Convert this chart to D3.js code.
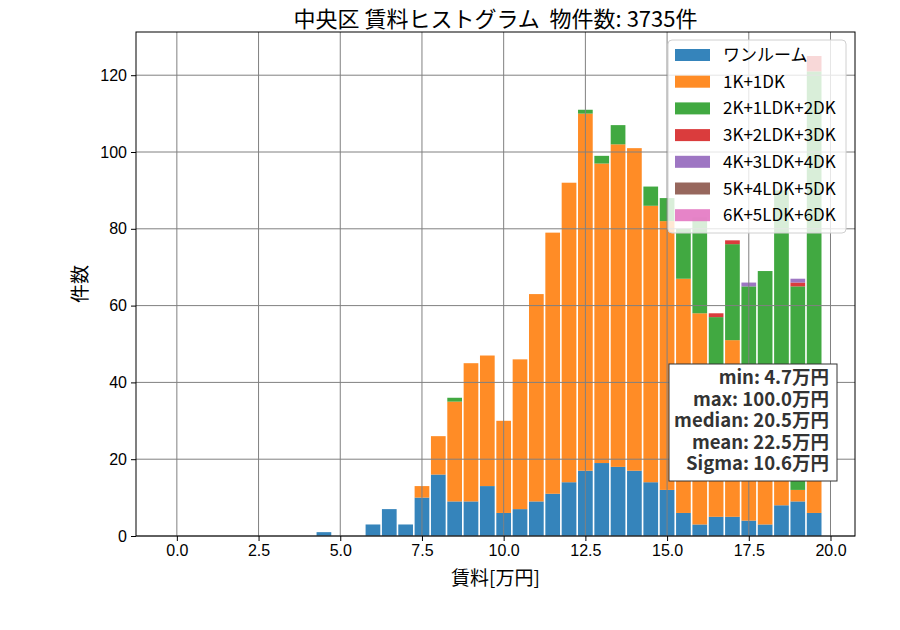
<!DOCTYPE html>
<html>
<head>
<meta charset="utf-8">
<script src="https://cdn.jsdelivr.net/npm/d3@7"></script>
<style>
  body { margin: 0; background: #fff; }
  svg { font-family: "Noto Sans CJK JP", "Noto Sans", sans-serif; }
</style>
</head>
<body>
<div id="chart"></div>
<script>
// bin centers (width 0.5), only bins that hold data plus the empty gap
const binCenters = [4.5, 5.0, 5.5, 6.0, 6.5, 7.0, 7.5, 8.0, 8.5, 9.0, 9.5, 10.0, 10.5, 11.0, 11.5,
    12.0, 12.5, 13.0, 13.5, 14.0, 14.5, 15.0, 15.5, 16.0, 16.5, 17.0, 17.5, 18.0, 18.5, 19.0, 19.5];

const categories = ['ワンルーム', '1K+1DK', '2K+1LDK+2DK', '3K+2LDK+3DK', '4K+3LDK+4DK', '5K+4LDK+5DK', '6K+5LDK+6DK'];

const oneRoom = [1, 0, 0, 3, 7, 3, 10, 16, 9, 9, 13, 6, 7, 9, 11, 14, 17, 19, 18, 17, 14, 12, 6, 3, 5, 5, 4, 3, 8, 9, 6];
const k1 = [0, 0, 0, 0, 0, 0, 3, 10, 26, 36, 34, 24, 39, 54, 68, 78, 93, 78, 84, 84, 72, 70, 61, 55, 37, 46, 32, 29, 22, 3, 16];
const k2 = [0, 0, 0, 0, 0, 0, 0, 0, 1, 0, 0, 0, 0, 0, 0, 0, 1, 2, 5, 0, 5, 6, 13, 25, 15, 25, 29, 37, 60, 53, 99];
const k3 = [0, 0, 0, 0, 0, 0, 0, 0, 0, 0, 0, 0, 0, 0, 0, 0, 0, 0, 0, 0, 0, 0, 0, 0, 1, 1, 0, 0, 0, 1, 4];
const k4 = [0, 0, 0, 0, 0, 0, 0, 0, 0, 0, 0, 0, 0, 0, 0, 0, 0, 0, 0, 0, 0, 0, 0, 0, 0, 0, 1, 0, 0, 1, 0];
const k5 = binCenters.map(() => 0);
const k6 = binCenters.map(() => 0);

const xTicks = [0, 2.5, 5, 7.5, 10, 12.5, 15, 17.5, 20];
const yTicks = [0, 20, 40, 60, 80, 100, 120];

const statLines = ['min: 4.7万円', 'max: 100.0万円', 'median: 20.5万円', 'mean: 22.5万円', 'Sigma: 10.6万円'];
const title = '中央区 賃料ヒストグラム  物件数: 3735件';

const colors = ['#1f77b4', '#ff7f0e', '#2ca02c', '#d62728', '#9467bd', '#8c564b', '#e377c2'];

const seriesValues = [oneRoom, k1, k2, k3, k4, k5, k6];
const rows = binCenters.map((c, i) => {
    const row = { center: c };
    categories.forEach((cat, j) => { row[cat] = seriesValues[j][i]; });
    return row;
});

const totalWidth = 900;
const totalHeight = 630;
const margin = { top: 32, right: 45, bottom: 94, left: 136 };
const graphWidth = totalWidth - margin.left - margin.right;
const graphHeight = totalHeight - margin.top - margin.bottom;

const binWidth = 0.5;
const rwidth = 0.9;
const histStart = -0.25;
const histEnd = 19.75;
const pad = (histEnd - histStart) * 0.05;

const stacked = d3.stack().keys(categories)(rows);
const maxTotal = d3.max(rows, d => d3.sum(categories, k => d[k]));

const scaleX = d3.scaleLinear()
    .domain([histStart - pad, histEnd + pad])
    .range([0, graphWidth]);
const scaleY = d3.scaleLinear()
    .domain([0, maxTotal * 1.05])
    .range([graphHeight, 0]);

const svg = d3.select('#chart').append('svg')
    .attr('width', totalWidth)
    .attr('height', totalHeight);

const graph = svg.append('g')
    .attr('transform', `translate(${margin.left}, ${margin.top})`);

// bars
graph.selectAll('g.series')
    .data(stacked)
    .enter()
    .append('g')
    .attr('class', 'series')
    .attr('fill', (d, i) => colors[i])
    .attr('fill-opacity', 0.9)
    .selectAll('rect')
    .data(d => d.filter(s => s[1] > s[0]))
    .enter()
    .append('rect')
    .attr('x', d => scaleX(d.data.center - binWidth * rwidth / 2))
    .attr('width', scaleX(binWidth * rwidth) - scaleX(0))
    .attr('y', d => scaleY(d[1]))
    .attr('height', d => scaleY(d[0]) - scaleY(d[1]));

// grid above bars
graph.append('g')
    .selectAll('line')
    .data(xTicks)
    .enter()
    .append('line')
    .attr('x1', d => scaleX(d)).attr('x2', d => scaleX(d))
    .attr('y1', 0).attr('y2', graphHeight)
    .attr('stroke', '#808080').attr('stroke-width', 1);
graph.append('g')
    .selectAll('line')
    .data(yTicks)
    .enter()
    .append('line')
    .attr('x1', 0).attr('x2', graphWidth)
    .attr('y1', d => scaleY(d)).attr('y2', d => scaleY(d))
    .attr('stroke', '#808080').attr('stroke-width', 1);

// axes
const xAxis = graph.append('g')
    .attr('transform', `translate(0, ${graphHeight})`)
    .call(d3.axisBottom(scaleX).tickValues(xTicks).tickFormat(d3.format('.1f')).tickSize(5).tickPadding(4));
const yAxis = graph.append('g')
    .call(d3.axisLeft(scaleY).tickValues(yTicks).tickFormat(d3.format('d')).tickSize(5).tickPadding(4));
[xAxis, yAxis].forEach(a => {
    a.select('.domain').remove();
    a.selectAll('text').style('font-size', '16px').attr('fill', '#000');
    a.selectAll('line').attr('stroke', '#000');
});

graph.append('rect')
    .attr('width', graphWidth)
    .attr('height', graphHeight)
    .attr('fill', 'none')
    .attr('stroke', '#000')
    .attr('stroke-width', 1);

// labels
svg.append('text')
    .attr('x', margin.left + graphWidth / 2)
    .attr('y', 27)
    .attr('text-anchor', 'middle')
    .style('font-size', '22px')
    .style('white-space', 'pre')
    .text(title);
svg.append('text')
    .attr('x', margin.left + graphWidth / 2)
    .attr('y', 585)
    .attr('text-anchor', 'middle')
    .style('font-size', '19px')
    .text('賃料[万円]');
svg.append('text')
    .attr('transform', `translate(87, ${margin.top + graphHeight / 2}) rotate(-90)`)
    .attr('text-anchor', 'middle')
    .style('font-size', '19px')
    .text('件数');

// legend
const legend = graph.append('g')
    .attr('transform', `translate(${668 - margin.left}, ${40 - margin.top})`);
legend.append('rect')
    .attr('width', 178)
    .attr('height', 193)
    .attr('rx', 4)
    .attr('fill', '#fff')
    .attr('fill-opacity', 0.8)
    .attr('stroke', '#d0d0d0');
categories.forEach((cat, i) => {
    const row = legend.append('g')
        .attr('transform', `translate(0, ${15 + i * 26.7})`);
    row.append('rect')
        .attr('x', 7).attr('y', -6)
        .attr('width', 35).attr('height', 12)
        .attr('fill', colors[i]).attr('fill-opacity', 0.9);
    row.append('text')
        .attr('x', 55).attr('y', 6)
        .style('font-size', '17px')
        .text(cat);
});

// stats box
const stats = graph.append('g');
const statsText = stats.append('text')
    .attr('text-anchor', 'end')
    .style('font-size', '18.5px')
    .style('font-weight', 'bold')
    .attr('fill', '#333');
statLines.forEach((line, i) => {
    statsText.append('tspan')
        .attr('x', 829 - margin.left)
        .attr('y', 384 - margin.top + i * 21.6)
        .text(line);
});
stats.insert('rect', 'text')
    .attr('x', 669 - margin.left)
    .attr('y', 364 - margin.top)
    .attr('width', 168)
    .attr('height', 117)
    .attr('fill', '#fff')
    .attr('stroke', '#333')
    .attr('stroke-width', 1);
</script>
</body>
</html>
